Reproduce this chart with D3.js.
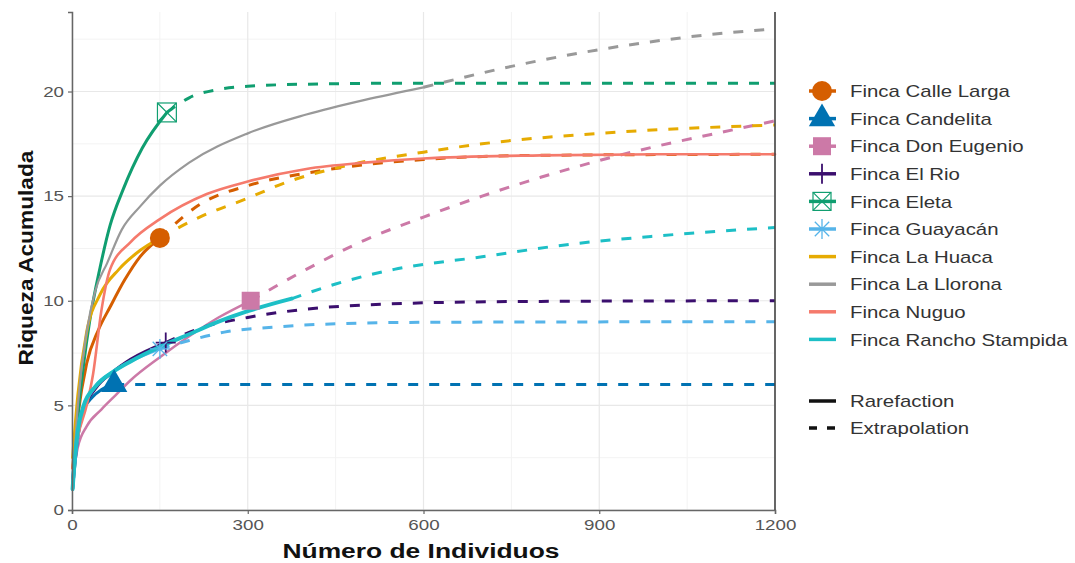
<!DOCTYPE html>
<html>
<head>
<meta charset="utf-8">
<script src="https://cdn.jsdelivr.net/npm/d3@7"></script>
<style>
body { margin: 0; background: #fff; }
text { font-family: "Liberation Sans", Arial, sans-serif; }
</style>
</head>
<body>
<script>
// rarefaction (solid) and extrapolation (dashed) curves, [n, riqueza]
var sites = ["Finca Calle Larga", "Finca Candelita", "Finca Don Eugenio", "Finca El Rio", "Finca Eleta",
	"Finca Guayacán", "Finca La Huaca", "Finca La Llorona", "Finca Nuguo", "Finca Rancho Stampida"];
var colors = ["#D55E00", "#0072B2", "#CC79A7", "#3B0F6E", "#109E70",
	"#56B4E9", "#E6AB02", "#999999", "#F57A6C", "#1DBFC6"];

var calleLargaRare = [[1,2],[10,4.5],[25,7],[45,8.6],[65,9.7],[90,11],[116,12.1],[150,13]];
var calleLargaExt = [[150,13],[218,14.6],[300,15.5],[400,16.1],[500,16.5],[600,16.75],[800,16.95],[1200,17]];
var candelitaRare = [[1,1.5],[10,3.8],[20,4.8],[35,5.4],[50,5.75],[72,6]];
var candelitaExt = [[72,6],[200,6],[600,6],[1200,6]];
var donEugenioRare = [[1,1.5],[10,3],[25,4],[50,4.8],[75,5.5],[100,6.2],[150,7.3],[200,8.3],[250,9.2],[305,10]];
var donEugenioExt = [[305,10],[400,11.5],[500,12.9],[600,14],[700,15],[800,15.9],[900,16.7],[1000,17.4],[1100,18],[1200,18.6]];
var elRioRare = [[1,1],[10,3.5],[20,4.8],[40,5.8],[70,6.6],[100,7.2],[160,8]];
var elRioExt = [[160,8],[220,8.7],[300,9.2],[400,9.6],[500,9.8],[600,9.9],[800,9.97],[1200,10]];
var eletaRare = [[1,1],[10,4.5],[20,7],[30,9],[48,11.6],[65,13.6],[87,15.3],[120,17.3],[162,19]];
var eletaExt = [[162,19],[200,19.7],[250,20.1],[300,20.25],[400,20.35],[600,20.4],[1200,20.4]];
var guayacanRare = [[1,1],[10,3.5],[20,4.8],[40,5.9],[70,6.6],[100,7.1],[150,7.7]];
var guayacanExt = [[150,7.7],[200,8.1],[260,8.5],[350,8.75],[450,8.9],[600,8.97],[1200,9]];
var laHuacaRare = [[1,2.5],[10,5.5],[25,8.5],[48,10.3],[80,11.5],[116,12.4],[150,13]];
var laHuacaExt = [[150,13],[218,14],[300,14.9],[360,15.6],[475,16.5],[600,17.1],[700,17.5],[900,18],[1200,18.4]];
var laLloronaRare = [[1,1],[10,5],[25,8.5],[40,10.5],[60,11.8],[85,13.4],[116,14.5],[150,15.5],[200,16.6],[300,18],[400,18.9],[500,19.6],[600,20.2]];
var laLloronaExt = [[600,20.2],[750,21.2],[900,22],[1050,22.6],[1200,23]];
var nuguoRare = [[1,2],[10,3.5],[25,5],[36,6.5],[50,9.5],[65,11.5],[100,12.8],[150,13.9],[230,15.1],[300,15.7],[400,16.3],[500,16.6],[600,16.8],[800,16.95],[1000,17],[1200,17]];
var nuguoExt = [];
var ranchoRare = [[1,1],[5,2.5],[10,3.8],[20,5],[40,5.9],[70,6.6],[100,7.1],[150,7.8],[200,8.4],[250,9],[300,9.5],[375,10.1]];
var ranchoExt = [[375,10.1],[450,10.8],[550,11.5],[700,12.1],[850,12.7],[1000,13.1],[1200,13.5]];

var rare = [calleLargaRare, candelitaRare, donEugenioRare, elRioRare, eletaRare, guayacanRare, laHuacaRare, laLloronaRare, nuguoRare, ranchoRare];
var ext = [calleLargaExt, candelitaExt, donEugenioExt, elRioExt, eletaExt, guayacanExt, laHuacaExt, laLloronaExt, nuguoExt, ranchoExt];
var widths = [3, 3, 2.5, 3, 3, 3, 3, 2.2, 2.6, 4];
// observed point: first six have a shape
var shapes = ["circle", "triangle", "square", "plus", "boxcross", "asterisk", null, null, null, null];

var xTicks = [0, 300, 600, 900, 1200];
var yTicks = [0, 5, 10, 15, 20];

var width = 1075, height = 563;
var svg = d3.select("body").append("svg").attr("width", width).attr("height", height);

var x = d3.scaleLinear().domain([0, 1200]).range([72, 775]);
var y = d3.scaleLinear().domain([0, 23.8]).range([510, 12]);

// the picture's text is a bit wider than the font, stretch it
function stretch(sel, k) {
	sel.each(function() {
		var len = this.getComputedTextLength();
		d3.select(this).attr("textLength", len * k).attr("lengthAdjust", "spacingAndGlyphs");
	});
}

// grid
var grid = svg.append("g");
[150, 450, 750, 1050].forEach(function(v) {
	grid.append("line").attr("x1", x(v)).attr("x2", x(v)).attr("y1", y.range()[1]).attr("y2", y.range()[0]).attr("stroke", "#f3f3f3").attr("stroke-width", 1);
});
[2.5, 7.5, 12.5, 17.5, 22.5].forEach(function(v) {
	grid.append("line").attr("x1", 72).attr("x2", 775).attr("y1", y(v)).attr("y2", y(v)).attr("stroke", "#f3f3f3").attr("stroke-width", 1);
});
xTicks.forEach(function(v) {
	grid.append("line").attr("x1", x(v)).attr("x2", x(v)).attr("y1", y.range()[1]).attr("y2", y.range()[0]).attr("stroke", "#e8e8e8").attr("stroke-width", 1.2);
});
yTicks.forEach(function(v) {
	grid.append("line").attr("x1", 72).attr("x2", 775).attr("y1", y(v)).attr("y2", y(v)).attr("stroke", "#e8e8e8").attr("stroke-width", 1.2);
});

var line = d3.line().x(function(d) { return x(d[0]); }).y(function(d) { return y(d[1]); }).curve(d3.curveMonotoneX);

var curves = svg.append("g");
for (var i = 0; i < sites.length; i++) {
	curves.append("path").attr("d", line(rare[i])).attr("fill", "none")
		.attr("stroke", colors[i]).attr("stroke-width", widths[i]).attr("stroke-linecap", "round");
	if (ext[i].length) {
		curves.append("path").attr("d", line(ext[i])).attr("fill", "none")
			.attr("stroke", colors[i]).attr("stroke-width", 3).attr("stroke-dasharray", "10,11");
	}
}

function drawShape(g, shape, color, s) {
	if (shape == "circle") g.append("circle").attr("r", s * 0.5).attr("fill", color);
	else if (shape == "triangle") g.append("path").attr("d", d3.symbol().type(d3.symbolTriangle).size(s * s * 0.75)()).attr("fill", color);
	else if (shape == "square") g.append("rect").attr("x", -s * 0.45).attr("y", -s * 0.45).attr("width", s * 0.9).attr("height", s * 0.9).attr("fill", color);
	else if (shape == "plus") g.append("path").attr("d", "M" + (-s / 2) + ",0H" + (s / 2) + "M0," + (-s / 2) + "V" + (s / 2)).attr("stroke", color).attr("stroke-width", 1.8);
	else if (shape == "boxcross") {
		var h = s * 0.45;
		g.append("rect").attr("x", -h).attr("y", -h).attr("width", 2 * h).attr("height", 2 * h).attr("fill", "none").attr("stroke", color).attr("stroke-width", 1.2);
		g.append("path").attr("d", "M" + (-h) + "," + (-h) + "L" + h + "," + h + "M" + (-h) + "," + h + "L" + h + "," + (-h)).attr("stroke", color).attr("stroke-width", 1.2);
	}
	else if (shape == "asterisk") {
		var a = s * 0.5, b = s * 0.36;
		g.append("path").attr("d", "M" + (-a) + ",0H" + a + "M0," + (-a) + "V" + a + "M" + (-b) + "," + (-b) + "L" + b + "," + b + "M" + (-b) + "," + b + "L" + b + "," + (-b))
			.attr("stroke", color).attr("stroke-width", 1.3);
	}
}

var marks = svg.append("g");
for (var i = 0; i < sites.length; i++) {
	if (!shapes[i]) continue;
	var last = rare[i][rare[i].length - 1];
	var g = marks.append("g").attr("transform", "translate(" + x(last[0]) + "," + y(last[1]) + ")");
	drawShape(g, shapes[i], colors[i], shapes[i] == "boxcross" ? 21 : 20);
}

// axes
var xAxis = svg.append("g").attr("transform", "translate(0,510)")
	.call(d3.axisBottom(x).tickValues(xTicks).tickFormat(d3.format("d")).tickSize(4).tickPadding(3));
var yAxis = svg.append("g").attr("transform", "translate(72,0)")
	.call(d3.axisLeft(y).tickValues(yTicks).tickSize(4).tickPadding(4));
[xAxis, yAxis].forEach(function(a) {
	a.select(".domain").attr("stroke", "#666").attr("stroke-width", 1.5);
	a.selectAll(".tick line").attr("stroke", "#666").attr("stroke-width", 1.2);
	a.selectAll(".tick text").attr("fill", "#555").style("font-size", "15px")
		.style("font-family", "'Liberation Sans', Arial, sans-serif");
});
xAxis.selectAll(".tick text").attr("dy", "0.85em");
stretch(xAxis.selectAll(".tick text"), 1.25);
stretch(yAxis.selectAll(".tick text"), 1.25);
svg.append("line").attr("x1", 775).attr("x2", 775).attr("y1", 12).attr("y2", 510).attr("stroke", "#444").attr("stroke-width", 1.6);

var xt = svg.append("text").attr("x", 421).attr("y", 558).attr("text-anchor", "middle")
	.style("font-size", "20px").style("font-weight", "bold").attr("fill", "#111").text("Número de Individuos");
xt.attr("textLength", 277).attr("lengthAdjust", "spacingAndGlyphs");
var yt = svg.append("text").attr("transform", "translate(33,258) rotate(-90)").attr("text-anchor", "middle")
	.style("font-size", "20px").style("font-weight", "bold").attr("fill", "#111").text("Riqueza Acumulada");
yt.attr("textLength", 215).attr("lengthAdjust", "spacingAndGlyphs");

// legend
var legend = svg.append("g");
sites.forEach(function(s, i) {
	var cy = 91 + i * 27.6;
	legend.append("line").attr("x1", 809).attr("x2", 836).attr("y1", cy).attr("y2", cy)
		.attr("stroke", colors[i]).attr("stroke-width", 3.5);
	if (shapes[i]) {
		var g = legend.append("g").attr("transform", "translate(822," + cy + ")");
		drawShape(g, shapes[i], colors[i], 20);
	}
	legend.append("text").attr("x", 850).attr("y", cy).attr("dy", "0.36em")
		.style("font-size", "17px").attr("fill", "#333").text(s);
});
legend.append("line").attr("x1", 809).attr("x2", 836).attr("y1", 401).attr("y2", 401).attr("stroke", "#111").attr("stroke-width", 3.5);
legend.append("line").attr("x1", 809).attr("x2", 836).attr("y1", 428).attr("y2", 428).attr("stroke", "#111").attr("stroke-width", 3.5).attr("stroke-dasharray", "8,10");
legend.append("text").attr("x", 850).attr("y", 401).attr("dy", "0.36em").style("font-size", "17px").attr("fill", "#333").text("Rarefaction");
legend.append("text").attr("x", 850).attr("y", 428).attr("dy", "0.36em").style("font-size", "17px").attr("fill", "#333").text("Extrapolation");
stretch(legend.selectAll("text"), 1.2);
</script>
</body>
</html>
